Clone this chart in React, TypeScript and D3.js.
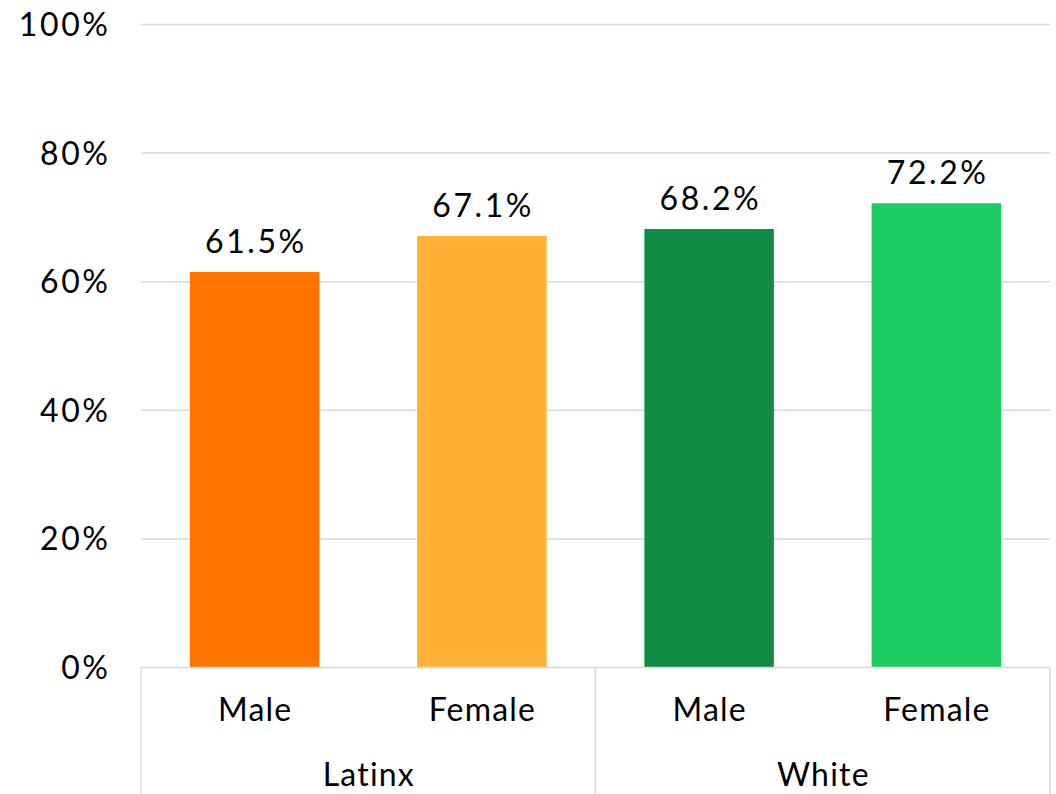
import React from "react";
import * as d3 from "d3";

// Completion rates by group and gender
const groups = ["Latinx", "White"];
const genders = ["Male", "Female"];
const values = [61.5, 67.1, 68.2, 72.2];
const barColors = ["#FF7300", "#FFB236", "#128C44", "#1ECC64"];
const yTicks = [0, 20, 40, 60, 80, 100];

const W = 1056;
const H = 794;
const left = 141;
const right = 1050;
const top = 24.5;
const bottom = 667.5;
const FONT = "Lato, 'Noto Sans', sans-serif";
const GRID = "#D9D9D9";
const NUM_SPACING = 2.6;
const CAT_SPACING = 1.2;

export default function App() {
  const keys = groups.flatMap((g) => genders.map((s) => `${g}|${s}`));
  const x = d3.scaleBand<string>().domain(keys).range([left, right]).paddingInner(0.43).paddingOuter(0.215);
  const y = d3.scaleLinear().domain([0, 100]).range([bottom, top]);
  const step = x.step();
  const groupEdges = d3.range(groups.length + 1).map((i) => left + i * genders.length * step);

  return (
    <svg
      width={W}
      height={H}
      style={{ position: "absolute", left: 0, top: 0, background: "#fff" }}
      fontFamily={FONT}
    >
      {/* gridlines */}
      {yTicks.slice(1).map((t) => (
        <line key={t} x1={left} x2={right} y1={y(t)} y2={y(t)} stroke={GRID} strokeWidth={1.5} />
      ))}
      {/* y tick labels */}
      {yTicks.map((t) => (
        <text
          key={t}
          x={108 + NUM_SPACING}
          y={y(t)}
          dy="0.36em"
          textAnchor="end"
          fontSize={32}
          letterSpacing={NUM_SPACING}
          fill="#000"
        >
          {`${t}%`}
        </text>
      ))}
      {/* bars */}
      {keys.map((k, i) => (
        <rect
          key={k}
          x={x(k)}
          y={y(values[i])}
          width={x.bandwidth()}
          height={y(0) - y(values[i])}
          fill={barColors[i]}
        />
      ))}
      {/* value labels */}
      {keys.map((k, i) => (
        <text
          key={k}
          x={(x(k) as number) + x.bandwidth() / 2 + NUM_SPACING / 2}
          y={y(values[i]) - 19}
          textAnchor="middle"
          fontSize={32}
          letterSpacing={NUM_SPACING}
          fill="#000"
        >
          {`${values[i].toFixed(1)}%`}
        </text>
      ))}
      {/* category axis */}
      <line x1={left} x2={right} y1={bottom} y2={bottom} stroke={GRID} strokeWidth={1.5} />
      {groupEdges.map((gx, i) => (
        <line key={i} x1={gx} x2={gx} y1={bottom} y2={H} stroke={GRID} strokeWidth={1.5} />
      ))}
      {keys.map((k) => (
        <text
          key={k}
          x={(x(k) as number) + x.bandwidth() / 2 + CAT_SPACING / 2}
          y={721}
          textAnchor="middle"
          fontSize={32}
          letterSpacing={CAT_SPACING}
          fill="#000"
        >
          {k.split("|")[1]}
        </text>
      ))}
      {groups.map((g, i) => (
        <text
          key={g}
          x={(groupEdges[i] + groupEdges[i + 1]) / 2 + CAT_SPACING / 2}
          y={786}
          textAnchor="middle"
          fontSize={32}
          letterSpacing={CAT_SPACING}
          fill="#000"
        >
          {g}
        </text>
      ))}
    </svg>
  );
}
